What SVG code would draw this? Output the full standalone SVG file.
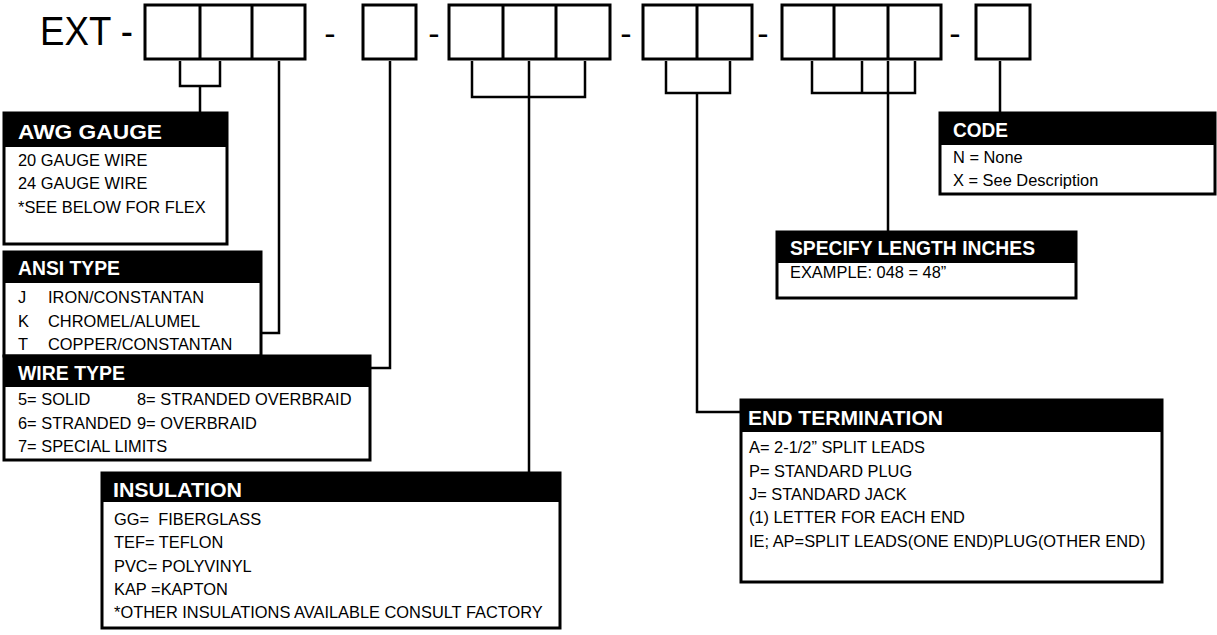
<svg xmlns="http://www.w3.org/2000/svg" width="1217" height="635" viewBox="0 0 1217 635">
<style>
.slot{fill:none;stroke:#000;stroke-width:3}
.frame{fill:#fff;stroke:#000;stroke-width:3}
.hdr{fill:#000}
.ht{font-family:"Liberation Sans",Arial,sans-serif;font-weight:bold;font-size:21px;fill:#fff}
.bt{font-family:"Liberation Sans",Arial,sans-serif;font-size:16.4px;fill:#000;white-space:pre}
.big{font-family:"Liberation Sans",Arial,sans-serif;font-size:40px;fill:#000}
.dash{font-family:"Liberation Sans",Arial,sans-serif;font-size:34px;fill:#000;text-anchor:middle}
.wire{fill:none;stroke:#000;stroke-width:2.5}
</style>
<rect width="1217" height="635" fill="#fff"/>
<g id="part-number">
<text class="big" x="40" y="45" textLength="93" lengthAdjust="spacingAndGlyphs">EXT -</text>
<rect class="slot" x="145" y="5" width="160" height="54"/>
<line class="slot" x1="200" y1="5" x2="200" y2="59"/>
<line class="slot" x1="252" y1="5" x2="252" y2="59"/>
<text class="dash" x="330" y="45">-</text>
<rect class="slot" x="363" y="5" width="53" height="54"/>
<text class="dash" x="434" y="45">-</text>
<rect class="slot" x="449" y="5" width="161" height="54"/>
<line class="slot" x1="503" y1="5" x2="503" y2="59"/>
<line class="slot" x1="556" y1="5" x2="556" y2="59"/>
<text class="dash" x="626" y="45">-</text>
<rect class="slot" x="643" y="5" width="109" height="54"/>
<line class="slot" x1="697" y1="5" x2="697" y2="59"/>
<text class="dash" x="763" y="45">-</text>
<rect class="slot" x="782" y="5" width="159" height="54"/>
<line class="slot" x1="834" y1="5" x2="834" y2="59"/>
<line class="slot" x1="888" y1="5" x2="888" y2="59"/>
<text class="dash" x="955" y="45">-</text>
<rect class="slot" x="976" y="5" width="54" height="54"/>
</g>
<g id="connectors">
<path class="wire" d="M180,61 V86 H220 V61 M200,86 V113"/>
<path class="wire" d="M279,61 V333 H262"/>
<path class="wire" d="M390,61 V368 H371"/>
<path class="wire" d="M472,61 V97 H585 V61 M529,61 V473"/>
<path class="wire" d="M666,61 V93 H730 V61 M697,93 V412 H740"/>
<path class="wire" d="M812,61 V93 H915 V61 M862,61 V93 M888,61 V232"/>
<path class="wire" d="M1000,61 V113"/>
</g>
<g id="awg-gauge">
<rect class="frame" x="4" y="113" width="223" height="131"/>
<rect class="hdr" x="4" y="113" width="223" height="34"/>
<text class="ht" x="18" y="139" textLength="144" lengthAdjust="spacingAndGlyphs">AWG GAUGE</text>
<text class="bt" x="18" y="166">20 GAUGE WIRE</text>
<text class="bt" x="18" y="189">24 GAUGE WIRE</text>
<text class="bt" x="18" y="213">*SEE BELOW FOR FLEX</text>
</g>
<g id="ansi-type">
<rect class="frame" x="4" y="252" width="257" height="104"/>
<rect class="hdr" x="4" y="252" width="257" height="31"/>
<text class="ht" x="18" y="275" textLength="102" lengthAdjust="spacingAndGlyphs">ANSI TYPE</text>
<text class="bt" x="18" y="303">J</text><text class="bt" x="48" y="303">IRON/CONSTANTAN</text>
<text class="bt" x="18" y="327">K</text><text class="bt" x="48" y="327">CHROMEL/ALUMEL</text>
<text class="bt" x="18" y="350">T</text><text class="bt" x="48" y="350">COPPER/CONSTANTAN</text>
</g>
<g id="wire-type">
<rect class="frame" x="4" y="356" width="366" height="104"/>
<rect class="hdr" x="4" y="356" width="366" height="31"/>
<text class="ht" x="18" y="380" textLength="107" lengthAdjust="spacingAndGlyphs">WIRE TYPE</text>
<text class="bt" x="18" y="405">5= SOLID</text><text class="bt" x="137" y="405">8= STRANDED OVERBRAID</text>
<text class="bt" x="18" y="429">6= STRANDED</text><text class="bt" x="137" y="429">9= OVERBRAID</text>
<text class="bt" x="18" y="452">7= SPECIAL LIMITS</text>
</g>
<g id="insulation">
<rect class="frame" x="102" y="473" width="458" height="155"/>
<rect class="hdr" x="102" y="473" width="458" height="29"/>
<text class="ht" x="113" y="497" textLength="129" lengthAdjust="spacingAndGlyphs">INSULATION</text>
<text class="bt" x="114" y="525">GG=  FIBERGLASS</text>
<text class="bt" x="114" y="548">TEF= TEFLON</text>
<text class="bt" x="114" y="572">PVC= POLYVINYL</text>
<text class="bt" x="114" y="595">KAP =KAPTON</text>
<text class="bt" x="114" y="618">*OTHER INSULATIONS AVAILABLE CONSULT FACTORY</text>
</g>
<g id="end-termination">
<rect class="frame" x="741" y="400" width="421" height="182"/>
<rect class="hdr" x="741" y="400" width="421" height="32"/>
<text class="ht" x="748" y="425" textLength="195" lengthAdjust="spacingAndGlyphs">END TERMINATION</text>
<text class="bt" x="749" y="453">A= 2-1/2” SPLIT LEADS</text>
<text class="bt" x="749" y="477">P= STANDARD PLUG</text>
<text class="bt" x="749" y="500">J= STANDARD JACK</text>
<text class="bt" x="749" y="523">(1) LETTER FOR EACH END</text>
<text class="bt" x="749" y="547">IE; AP=SPLIT LEADS(ONE END)PLUG(OTHER END)</text>
</g>
<g id="specify-length">
<rect class="frame" x="777" y="232" width="299" height="66"/>
<rect class="hdr" x="777" y="232" width="299" height="31"/>
<text class="ht" x="790" y="255" textLength="245" lengthAdjust="spacingAndGlyphs">SPECIFY LENGTH INCHES</text>
<text class="bt" x="790" y="278">EXAMPLE: 048 = 48”</text>
</g>
<g id="code">
<rect class="frame" x="940" y="113" width="275" height="81"/>
<rect class="hdr" x="940" y="113" width="275" height="32"/>
<text class="ht" x="953" y="137" textLength="55" lengthAdjust="spacingAndGlyphs">CODE</text>
<text class="bt" x="953" y="163">N = None</text>
<text class="bt" x="953" y="186">X = See Description</text>
</g>
</svg>
